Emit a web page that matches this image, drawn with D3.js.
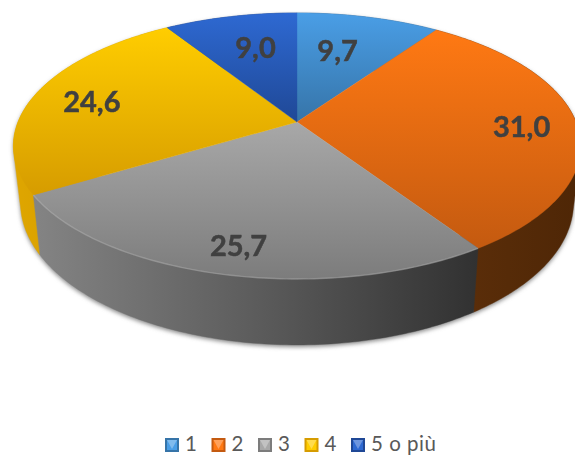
<!DOCTYPE html>
<html><head><meta charset="utf-8">
<script src="https://cdn.jsdelivr.net/npm/d3@7"></script>
<style>html,body{margin:0;padding:0;background:#fff}svg{display:block}</style>
</head><body><svg id="c" width="575" height="455"></svg>
<script>
const categories = ["1","2","3","4","5 o più"];
const values = [9.7,31.0,25.7,24.6,9.0];
const valueLabels = ["9,7","31,0","25,7","24,6","9,0"];
const topLight = ["#4a9ee6","#ff7913","#a8a8a8","#ffcd00","#2e69d2"];
const topDark  = ["#3674a8","#c45a10","#7c7c7c","#d69c00","#1f4896"];
const sideLeft = ["#2a5a85","#5e2f0a","#848484","#dfa600","#1a3a78"];
const sideMid  = ["#2a5a85","#562b08","#5c5c5c","#d49d00","#1a3a78"];
const sideRight= ["#2a5a85","#4e2606","#313131","#c89400","#1a3a78"];
const labelRadius = [0.6,0.8,0.8,0.78,0.65];
const labelNudge = [[-5,-6],[1,2],[-1,6],[0,1],[4,-3]];

const svg = d3.select("#c");
const defs = svg.append("defs");
const cx=297, cy=122, A=279, B=128.7, K=0.18, DY=55, SX=0.975, SY=1.07;

function project(theta, r, lower){
  const u=r*Math.sin(theta), v=r*Math.cos(theta), w=1+K*v;
  return [cx+(lower?SX:1)*A*u/w, cy+(lower?DY:0)-(lower?SY:1)*B*v/w];
}
function arcPts(a0,a1,lower){
  const n=Math.max(8,Math.ceil((a1-a0)*60));
  return d3.range(n+1).map(i=>project(a0+(a1-a0)*i/n,1,lower));
}
const line=d3.line();
const arcs=d3.pie().sort(null).startAngle(0).endAngle(2*Math.PI)(values);

defs.append("filter").attr("id","shadow").attr("x","-10%").attr("y","-10%").attr("width","120%").attr("height","120%")
  .append("feGaussianBlur").attr("stdDeviation",2.2);
defs.append("filter").attr("id","soft").append("feGaussianBlur").attr("stdDeviation",0.7);
defs.append("filter").attr("id","text").append("feGaussianBlur").attr("stdDeviation",0.35);

arcs.forEach((d,i)=>{
  const t=defs.append("linearGradient").attr("id","t"+i).attr("gradientUnits","userSpaceOnUse")
    .attr("x1",0).attr("x2",0);
  const ys=arcPts(d.startAngle,d.endAngle,false).map(p=>p[1]).concat([cy]);
  t.attr("y1",d3.min(ys)).attr("y2",d3.max(ys));
  t.append("stop").attr("offset",0).attr("stop-color",topLight[i]);
  t.append("stop").attr("offset",1).attr("stop-color",topDark[i]);
  const xs=arcPts(d.startAngle,d.endAngle,false).map(p=>p[0]);
  const g=defs.append("linearGradient").attr("id","s"+i).attr("gradientUnits","userSpaceOnUse")
    .attr("y1",0).attr("y2",0).attr("x1",d3.min(xs)).attr("x2",d3.max(xs));
  g.append("stop").attr("offset",0).attr("stop-color",sideLeft[i]);
  g.append("stop").attr("offset",0.5).attr("stop-color",sideMid[i]);
  g.append("stop").attr("offset",1).attr("stop-color",sideRight[i]);
});

const hull=d=>d3.polygonHull(arcPts(d.startAngle,d.endAngle,false).concat(arcPts(d.startAngle,d.endAngle,true)));

// soft shadow under the disc
svg.append("g").attr("transform","translate(0,2)").attr("filter","url(#shadow)")
  .selectAll("path").data(arcs).join("path")
  .attr("d",d=>line(hull(d))+"Z").attr("fill","#8a8a8a");

// rim: back slices first so the front ones stay on top
const rimOrder=[0,4,3,1,2];
svg.append("g").selectAll("path").data(rimOrder).join("path")
  .attr("d",i=>line(hull(arcs[i]))+"Z")
  .attr("fill",i=>`url(#s${i})`)
  .attr("stroke",i=>`url(#s${i})`).attr("stroke-width",0.4);

// top faces
svg.append("g").selectAll("path").data(arcs).join("path")
  .attr("d",d=>line([[cx,cy],...arcPts(d.startAngle,d.endAngle,false)])+"Z")
  .attr("fill",(d,i)=>`url(#t${i})`)
  .attr("stroke",(d,i)=>`url(#t${i})`).attr("stroke-width",0.4);

// bevel highlight along the front edge of the grey slice
svg.append("path")
  .attr("d",line(arcPts(arcs[2].startAngle,arcs[2].endAngle,false)))
  .attr("fill","none").attr("stroke","#c4c4c4").attr("stroke-width",1.4)
  .attr("stroke-opacity",.35).attr("filter","url(#soft)");

// value labels
svg.append("g").selectAll("text").data(arcs).join("text")
  .attr("x",(d,i)=>project((d.startAngle+d.endAngle)/2,labelRadius[i],false)[0]+labelNudge[i][0])
  .attr("y",(d,i)=>project((d.startAngle+d.endAngle)/2,labelRadius[i],false)[1]+labelNudge[i][1])
  .attr("text-anchor","middle").attr("dominant-baseline","central")
  .attr("font-family","Lato, 'Open Sans', sans-serif").attr("font-weight",700).attr("font-size",29)
  .attr("fill","#404040").attr("stroke","#404040").attr("stroke-width",0.5).attr("filter","url(#text)")
  .text((d,i)=>valueLabels[i]);

// legend
const lx=d3.scalePoint().domain(categories).range([165,351]);
const lg=svg.append("g").selectAll("g").data(categories).join("g")
  .attr("transform",d=>`translate(${lx(d)},438)`);
const m=14, b=2;
lg.each(function(d,i){
  const g=d3.select(this);
  g.append("rect").attr("width",m).attr("height",m).attr("fill",topDark[i]);
  g.append("rect").attr("x",b).attr("y",b).attr("width",m-2*b).attr("height",m-2*b).attr("fill",topLight[i]);
  g.append("path").attr("d",line([[b,b],[m-b,b],[m/2,m-b-1]])+"Z").attr("fill","#fff").attr("opacity",.3);
  g.append("text").attr("x",m+6).attr("y",12.5)
    .attr("font-family","Lato, 'Open Sans', sans-serif").attr("font-size",20.5).attr("letter-spacing",0.5)
    .attr("fill","#595959").text(d);
});
</script></body></html>
